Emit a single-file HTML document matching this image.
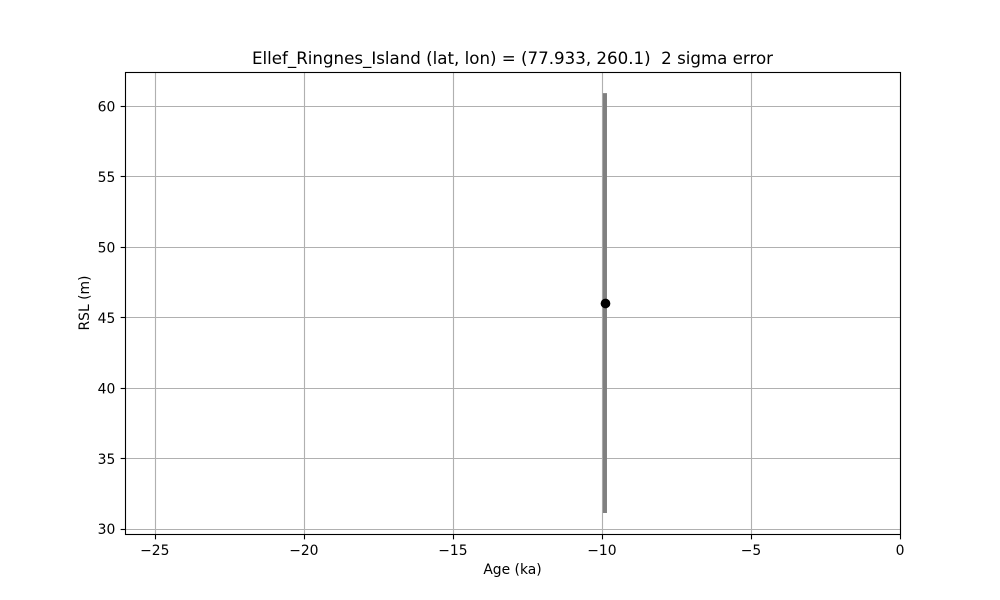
<!DOCTYPE html>
<html>
<head>
<meta charset="utf-8">
<title>Ellef_Ringnes_Island RSL</title>
<style>
html,body{margin:0;padding:0;background:#fff;width:1000px;height:600px;overflow:hidden}
svg{display:block}
text{font-family:"DejaVu Sans",sans-serif;fill:#000}
</style>
</head>
<body>
<svg id="chart" xmlns="http://www.w3.org/2000/svg" width="1000" height="600" viewBox="0 0 1000 600"></svg>
<script>
const xTicks = [-25, -20, -15, -10, -5, 0];
const yTicks = [30, 35, 40, 45, 50, 55, 60];
const ages = [-9.9];
const rsl = [46.05];
const rslErrors = [14.9];
const titleText = "Ellef_Ringnes_Island (lat, lon) = (77.933, 260.1)  2 sigma error";
const xLabelText = "Age (ka)";
const yLabelText = "RSL (m)";

const svg = document.getElementById('chart');
const NS = 'http://www.w3.org/2000/svg';
const plot = {left: 125, right: 900, top: 72, bottom: 534};
const xDomain = [-26, 0];
const yDomain = [29.66, 62.45];
const xScale = v => plot.left + (v - xDomain[0]) / (xDomain[1] - xDomain[0]) * (plot.right - plot.left);
const yScale = v => plot.bottom - (v - yDomain[0]) / (yDomain[1] - yDomain[0]) * (plot.bottom - plot.top);
const snapX = v => Math.round(v) + 0.5;
const snapY = v => Math.floor(v) + 0.5;
const fmt = v => String(v).replace('-', '\u2212');

function make(tag, attrs, text) {
  const el = document.createElementNS(NS, tag);
  for (const k in attrs) el.setAttribute(k, attrs[k]);
  if (text !== undefined) el.textContent = text;
  svg.appendChild(el);
  return el;
}

const bg = make('rect', {x: plot.left, y: plot.top, width: plot.right - plot.left, height: plot.bottom - plot.top, fill: '#fff'});



xTicks.forEach(t => {
  const x = snapX(xScale(t));
  const grid = make('line', {x1: x, x2: x, y1: plot.top, y2: plot.bottom, stroke: '#b0b0b0', 'stroke-width': 1.11});
  
  
});
yTicks.forEach(t => {
  const y = snapY(yScale(t));
  const grid = make('line', {x1: plot.left, x2: plot.right, y1: y, y2: y, stroke: '#b0b0b0', 'stroke-width': 1.11});
  
  
});

ages.forEach((a, i) => {
  const x = xScale(a);
  const bar = make('line', {x1: x, x2: x, y1: yScale(rsl[i] - rslErrors[i]), y2: yScale(rsl[i] + rslErrors[i]), stroke: '#808080', 'stroke-width': 4.17});
  
  
  const dot = make('circle', {cx: Math.round(x) + 0.5, cy: Math.round(yScale(rsl[i])) + 0.5, r: 4.86, fill: '#000'});
  
  
});

xTicks.forEach(t => {
  const x = snapX(xScale(t));
  const tick = make('line', {x1: x, x2: x, y1: 534.5, y2: 539.36, stroke: '#000', 'stroke-width': 1.11});
  
  
  const label = make('text', {x: xScale(t), y: plot.bottom + 21, 'font-size': 13.89, 'text-anchor': 'middle'}, fmt(t));
  
  
});
yTicks.forEach(t => {
  const y = snapY(yScale(t));
  const tick = make('line', {x1: 120.64, x2: 125.5, y1: y, y2: y, stroke: '#000', 'stroke-width': 1.11});
  
  
  const label = make('text', {x: plot.left - 9.7, y: yScale(t) + 5, 'font-size': 13.89, 'text-anchor': 'end'}, fmt(t));
  
  
});

const frame = make('rect', {x: 125.5, y: 72.5, width: 775, height: 462, fill: 'none', stroke: '#000', 'stroke-width': 1.11});



const title = make('text', {x: 512.5, y: 64, 'font-size': 16.67, 'text-anchor': 'middle', style: 'white-space:pre'}, titleText);



const xLabel = make('text', {x: 512.5, y: 574, 'font-size': 13.89, 'text-anchor': 'middle'}, xLabelText);



const yLabel = make('text', {x: 0, y: 0, 'font-size': 13.89, 'text-anchor': 'middle', transform: 'translate(89 303) rotate(-90)'}, yLabelText);


</script>
</body>
</html>
